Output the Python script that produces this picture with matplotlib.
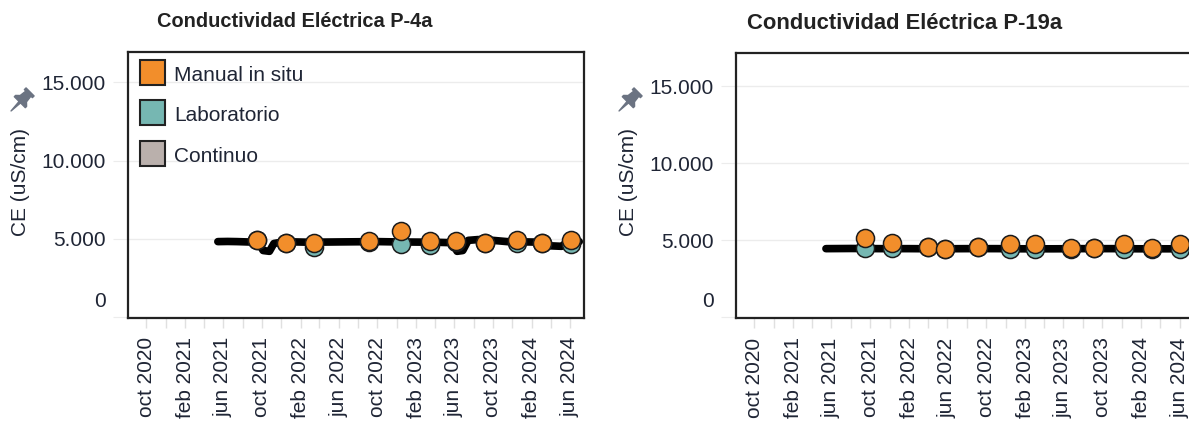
import matplotlib
matplotlib.use('Agg')
import matplotlib.pyplot as plt
import matplotlib.dates as mdates
from matplotlib.lines import Line2D
from matplotlib.path import Path
from matplotlib.transforms import Affine2D
from matplotlib.ticker import FuncFormatter, FixedLocator
import pandas as pd

plt.rcParams['font.family'] = ['Liberation Sans', 'DejaVu Sans']

# Tableau palette used by the original dashboard
ORANGE = '#f28e2b'
TEAL = '#76b7b2'
GRAY = '#bab0ac'
TEXT = '#1f2535'

series_names = ['Manual in situ', 'Laboratorio', 'Continuo']
titles = ['Conductividad Eléctrica P-4a', 'Conductividad Eléctrica P-19a']
y_label = 'CE (uS/cm)'
y_ticks = [0, 5000, 10000, 15000]
month_es = {2: 'feb', 6: 'jun', 10: 'oct'}

# P-4a
p4_cont_dates = ['2021-05-15', '2021-06-15', '2021-07-15', '2021-08-15', '2021-09-20',
                 '2021-10-05', '2021-10-25', '2021-11-08', '2021-12-01', '2022-01-15',
                 '2022-03-01', '2022-04-15', '2022-06-01', '2022-08-01', '2022-10-01',
                 '2022-12-01', '2023-02-01', '2023-04-01', '2023-05-25', '2023-06-10',
                 '2023-06-28', '2023-07-15', '2023-08-15', '2023-10-01', '2023-11-15',
                 '2024-01-15', '2024-03-15', '2024-04-01', '2024-05-05', '2024-05-22',
                 '2024-06-30']
p4_cont_vals = [4820, 4830, 4820, 4800, 4780,
                4250, 4200, 4700, 4780, 4800,
                4780, 4790, 4800, 4810, 4820,
                4800, 4790, 4780, 4750, 4200,
                4250, 4900, 4950, 4900, 4820,
                4800, 4780, 4550, 4520, 4780,
                4820]
p4_manual_dates = ['2021-09-15', '2021-12-15', '2022-03-15', '2022-09-05', '2022-12-15',
                   '2023-03-15', '2023-06-05', '2023-09-05', '2023-12-15', '2024-03-05',
                   '2024-06-05']
p4_manual_vals = [4950, 4760, 4720, 4840, 5500, 4840, 4830, 4730, 4950, 4730, 4950]
p4_lab_vals = [4900, 4720, 4500, 4800, 4680, 4620, 4800, 4700, 4700, 4700, 4650]

# P-19a
p19_cont_dates = ['2021-05-15', '2021-08-01', '2021-11-01', '2022-02-01', '2022-05-01',
                  '2022-08-01', '2022-11-01', '2023-02-01', '2023-05-01', '2023-08-01',
                  '2023-11-01', '2024-02-01', '2024-05-01', '2024-07-15']
p19_cont_vals = [4450, 4460, 4450, 4450, 4440, 4450, 4450, 4440, 4440, 4450,
                 4450, 4440, 4440, 4450]
p19_manual_dates = ['2021-09-15', '2021-12-10', '2022-04-01', '2022-05-25', '2022-09-05',
                    '2022-12-15', '2023-03-05', '2023-06-25', '2023-09-05', '2023-12-10',
                    '2024-03-05', '2024-06-01']
p19_manual_vals = [5170, 4790, 4570, 4420, 4570, 4720, 4720, 4470, 4500, 4720, 4470, 4720]
p19_lab_vals = [4500, 4480, 4550, 4400, 4550, 4450, 4450, 4450, 4480, 4450, 4450, 4450]

W, H = 1189, 421


def pin_marker():
    verts = [(-0.38, 1.0), (0.38, 1.0), (0.38, 0.84), (0.24, 0.84), (0.3, 0.36),
             (0.52, 0.15), (0.52, 0.03), (0.07, 0.03), (0.0, -0.8), (-0.07, 0.03),
             (-0.52, 0.03), (-0.52, 0.15), (-0.3, 0.36), (-0.24, 0.84), (-0.38, 0.84),
             (-0.38, 1.0)]
    path = Path(verts, closed=True)
    return Affine2D().rotate_deg(-45).transform_path(path)


def fmt_thousands(v, pos):
    if v == 0:
        return ''
    return f'{v:,.0f}'.replace(',', '.')


def fmt_month(v, pos):
    d = mdates.num2date(v)
    return f'{month_es[d.month]} {d.year}'


def draw_panel(ax, cont_d, cont_v, man_d, man_v, lab_v, ylim):
    ax.plot(pd.to_datetime(cont_d), cont_v, color='black', lw=5.5, zorder=2,
            solid_capstyle='round', solid_joinstyle='round')
    ax.plot(pd.to_datetime(man_d), lab_v, ls='none', marker='o', ms=13,
            mfc=TEAL, mec='#1a1a1a', mew=1.1, zorder=3)
    ax.plot(pd.to_datetime(man_d), man_v, ls='none', marker='o', ms=13,
            mfc=ORANGE, mec='#1a1a1a', mew=1.1, zorder=4)

    ax.set_xlim(pd.Timestamp('2020-08-05'), pd.Timestamp('2024-07-16'))
    ax.set_ylim(*ylim)

    ax.yaxis.set_major_locator(FixedLocator(y_ticks))
    ax.yaxis.set_major_formatter(FuncFormatter(fmt_thousands))
    ax.grid(axis='y', color='#ececec', lw=1)
    ax.set_axisbelow(True)
    ax.tick_params(axis='y', length=11, color='#ececec', pad=5,
                   labelsize=15, labelcolor=TEXT)
    ax.annotate('0', xy=(0, 0), xycoords=('axes fraction', 'data'),
                xytext=(-16, 11), textcoords='offset points',
                ha='right', va='center', fontsize=15, color=TEXT)

    ax.xaxis.set_major_locator(mdates.MonthLocator(bymonth=[2, 6, 10]))
    ax.xaxis.set_minor_locator(mdates.MonthLocator(bymonth=[4, 8, 12]))
    ax.xaxis.set_major_formatter(FuncFormatter(fmt_month))
    ax.tick_params(axis='x', which='both', length=7, color='#e0e0e0', width=1)
    ax.tick_params(axis='x', which='major', pad=7, labelsize=15, labelcolor=TEXT,
                   labelrotation=90)

    for sp in ax.spines.values():
        sp.set_color('#222222')
        sp.set_linewidth(1.6)


fig = plt.figure(figsize=(W / 100, H / 100), dpi=100)

ax1 = fig.add_axes([128.3 / W, 1 - 317.7 / H, 456 / W, 266 / H])
ax2 = fig.add_axes([736 / W, 1 - 318 / H, 458 / W, 264.7 / H])

draw_panel(ax1, p4_cont_dates, p4_cont_vals, p4_manual_dates, p4_manual_vals,
           p4_lab_vals, (-40, 16950))
draw_panel(ax2, p19_cont_dates, p19_cont_vals, p19_manual_dates, p19_manual_vals,
           p19_lab_vals, (-50, 17125))

handles = [
    Line2D([], [], ls='none', marker='s', ms=18, mfc=ORANGE, mec='#222222', mew=1.5),
    Line2D([], [], ls='none', marker='s', ms=18, mfc=TEAL, mec='#222222', mew=1.5),
    Line2D([], [], ls='none', marker='s', ms=18, mfc=GRAY, mec='#222222', mew=1.5),
]
ax1.legend(handles, series_names, loc='upper left', frameon=False, fontsize=15,
           handlelength=1.2, handleheight=1.2, handletextpad=0.45,
           labelspacing=0.9, borderpad=0.0, borderaxespad=0.55,
           labelcolor=TEXT)

fig.text(156.7 / W, 1 - 26.7 / H, titles[0], fontsize=14.4, fontweight='bold',
         color='#222222', ha='left', va='baseline')
fig.text(746.7 / W, 1 - 29.3 / H, titles[1], fontsize=15.8, fontweight='bold',
         color='#222222', ha='left', va='baseline')

for xc in (21, 628):
    fig.text(xc / W, 1 - 182 / H, y_label, rotation=90, fontsize=15,
             color=TEXT, ha='center', va='center')

pin = pin_marker()
for xc in (19, 627):
    fig.add_artist(Line2D([xc / W], [1 - 102 / H], transform=fig.transFigure,
                          marker=pin, ms=21, color='#6b7382', ls='none'))

fig.savefig('out.png', dpi=100)
